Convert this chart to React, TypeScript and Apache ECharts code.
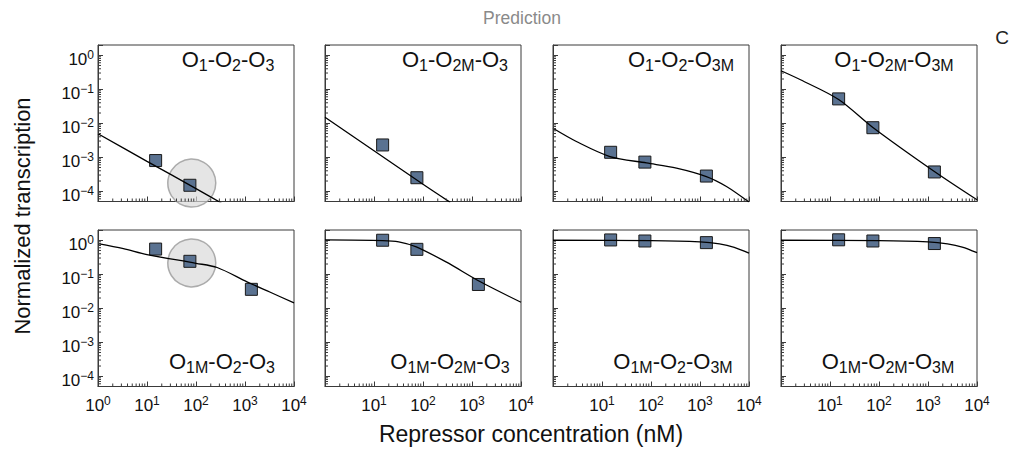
import React, { useEffect, useRef } from 'react';
import * as echarts from 'echarts';

const FONT = 'Liberation Sans, Arial, Helvetica, sans-serif';

// Repressor concentrations of the measured points (nM)
const concentrations = [15, 75, 1350];

// Panel labels (rich markup: o = normal, s = subscript)
const panelLabels = [
  '{o|O}{s|1}{o|-O}{s|2}{o|-O}{s|3}',
  '{o|O}{s|1}{o|-O}{s|2M}{o|-O}{s|3}',
  '{o|O}{s|1}{o|-O}{s|2}{o|-O}{s|3M}',
  '{o|O}{s|1}{o|-O}{s|2M}{o|-O}{s|3M}',
  '{o|O}{s|1M}{o|-O}{s|2}{o|-O}{s|3}',
  '{o|O}{s|1M}{o|-O}{s|2M}{o|-O}{s|3}',
  '{o|O}{s|1M}{o|-O}{s|2}{o|-O}{s|3M}',
  '{o|O}{s|1M}{o|-O}{s|2M}{o|-O}{s|3M}',
];

// Measured normalized transcription (squares)
const obsO1O2O3 = [8e-4, 1.5e-4];
const obsO1O2MO3 = [2.3e-3, 2.5e-4];
const obsO1O2O3M = [1.4e-3, 7.2e-4, 2.8e-4];
const obsO1O2MO3M = [0.052, 7.4e-3, 3.7e-4];
const obsO1MO2O3 = [0.55, 0.24, 0.036];
const obsO1MO2MO3 = [1.0, 0.54, 0.05];
const obsO1MO2O3M = [1.02, 0.95, 0.85];
const obsO1MO2MO3M = [1.03, 0.95, 0.8];

// Prediction curves: [concentration, transcription]
const fitO1O2O3 = [[1, 4.9e-3], [10, 7.6e-4], [100, 1.2e-4], [330, 4.5e-5]];
const fitO1O2MO3 = [[1, 1.5e-2], [10, 1.55e-3], [100, 1.6e-4], [360, 4.7e-5]];
const fitO1O2O3M = [[1, 7.1e-3], [3, 2.9e-3], [14.5, 1.05e-3], [81, 6.8e-4], [331, 4.8e-4], [1350, 2.7e-4], [3470, 1.38e-4], [10000, 4.8e-5]];
const fitO1O2MO3M = [[1, 0.35], [2.5, 0.19], [15, 0.05], [75, 7.5e-3], [1350, 3.8e-4], [10000, 5.6e-5]];
const fitO1MO2O3 = [[1, 0.8], [3.3, 0.57], [10, 0.38], [100, 0.21], [270, 0.158], [1100, 0.06], [3200, 0.03], [10000, 0.0144]];
const fitO1MO2MO3 = [[1, 1.02], [15, 0.98], [32, 0.9], [73, 0.64], [295, 0.23], [1480, 0.06], [10000, 0.015]];
const fitO1MO2O3M = [[1, 1.0], [100, 0.97], [1000, 0.89], [2500, 0.78], [5000, 0.62], [10000, 0.42]];
const fitO1MO2MO3M = [[1, 1.0], [100, 0.97], [1000, 0.89], [2500, 0.78], [5000, 0.63], [10000, 0.43]];

// Highlight circles [concentration, transcription] per panel (null = none)
const highlights = [[82, 1.74e-4], null, null, null, [82, 0.215], null, null, null];

const observations = [obsO1O2O3, obsO1O2MO3, obsO1O2O3M, obsO1O2MO3M, obsO1MO2O3, obsO1MO2MO3, obsO1MO2O3M, obsO1MO2MO3M];
const fits = [fitO1O2O3, fitO1O2MO3, fitO1O2O3M, fitO1O2MO3M, fitO1MO2O3, fitO1MO2MO3, fitO1MO2O3M, fitO1MO2MO3M];

const X_MIN = 1;
const X_MAX = 1e4;
const Y_MIN = 5e-5;
const Y_MAX = 2;

// Layout
const colLefts = [98, 325, 553, 781];
const rowTops = [45, 230];
const GRID_W = 196;
const GRID_H = 156.5;
const labelCenters = [228, 455, 681, 894, 222, 450, 673, 888];
const labelTops = [48.5, 350];

const AXIS_COLOR = '#3a3a3a';

function minorTickValues(lo: number, hi: number) {
  const out: number[] = [];
  for (let e = Math.floor(Math.log10(lo)) - 1; e <= Math.ceil(Math.log10(hi)); e++) {
    for (let k = 2; k <= 9; k++) {
      const v = k * Math.pow(10, e);
      if (v > lo * 1.0001 && v < hi * 0.9999) out.push(v);
    }
  }
  return out;
}

function powLabel(v: number) {
  const l = Math.log10(v);
  const e = Math.round(l);
  if (Math.abs(l - e) > 1e-6) return null;
  return e;
}

const tickRich = {
  b: { fontSize: 17, lineHeight: 19, verticalAlign: 'bottom', color: '#111', fontFamily: FONT, fontWeight: 'normal' },
  s: { fontSize: 12, lineHeight: 12, verticalAlign: 'top', color: '#111', fontFamily: FONT, fontWeight: 'normal' },
};

export default function App() {
  const ref = useRef<HTMLDivElement>(null);

  useEffect(() => {
    document.body.style.margin = '0';
    if (!ref.current) return;
    const chart = echarts.init(ref.current, undefined, { renderer: 'svg' });

    const grids: any[] = [];
    const xAxes: any[] = [];
    const yAxes: any[] = [];
    const series: any[] = [];
    const titles: any[] = [];

    const xMinor = minorTickValues(X_MIN, X_MAX);
    const yMinor = minorTickValues(Y_MIN, Y_MAX);

    for (let i = 0; i < 8; i++) {
      const row = Math.floor(i / 4);
      const col = i % 4;
      grids.push({
        left: colLefts[col],
        top: rowTops[row],
        width: GRID_W,
        height: GRID_H,
        show: true,
        borderColor: AXIS_COLOR,
        borderWidth: 1,
        backgroundColor: 'transparent',
        containLabel: false,
      });
      const showXLabels = row === 1;
      const showZero = col === 0;
      xAxes.push({
        type: 'log',
        logBase: 10,
        gridIndex: i,
        min: X_MIN,
        max: X_MAX,
        axisLine: { show: true, lineStyle: { color: AXIS_COLOR, width: 1 } },
        axisTick: { show: true, inside: true, length: 5, lineStyle: { color: AXIS_COLOR } },
        splitLine: { show: false },
        axisLabel: {
          show: showXLabels,
          margin: 8,
          formatter: (v: number) => {
            const e = powLabel(v);
            if (e === null) return '';
            if (e === 0 && !showZero) return '';
            return `{b|10}{s|${e < 0 ? '\u2212' + -e : e}}`;
          },
          rich: tickRich,
        },
      });
      yAxes.push({
        type: 'log',
        logBase: 10,
        gridIndex: i,
        min: Y_MIN,
        max: Y_MAX,
        axisLine: { show: true, lineStyle: { color: AXIS_COLOR, width: 1 } },
        axisTick: { show: true, inside: true, length: 5, lineStyle: { color: AXIS_COLOR } },
        splitLine: { show: false },
        axisLabel: {
          show: col === 0,
          margin: 4,
          padding: [7, 0, 0, 0],
          formatter: (v: number) => {
            const e = powLabel(v);
            if (e === null) return '';
            return `{b|10}{s|${e < 0 ? '\u2212' + -e : e}}`;
          },
          rich: tickRich,
        },
      });

      // minor ticks (x)
      series.push({
        type: 'custom',
        xAxisIndex: i,
        yAxisIndex: i,
        silent: true,
        z: 5,
        data: xMinor.map((v) => [v, 1]),
        encode: { x: 0, y: 1 },
        renderItem: (params: any, api: any) => {
          const cs = params.coordSys;
          const p = api.coord([api.value(0), api.value(1)]);
          const yb = cs.y + cs.height;
          return {
            type: 'line',
            shape: { x1: p[0], y1: yb, x2: p[0], y2: yb - 3 },
            style: { stroke: AXIS_COLOR, lineWidth: 1 },
          };
        },
      });
      // minor ticks (y)
      series.push({
        type: 'custom',
        xAxisIndex: i,
        yAxisIndex: i,
        silent: true,
        z: 5,
        data: yMinor.map((v) => [1, v]),
        encode: { x: 0, y: 1 },
        renderItem: (params: any, api: any) => {
          const cs = params.coordSys;
          const p = api.coord([api.value(0), api.value(1)]);
          return {
            type: 'line',
            shape: { x1: cs.x, y1: p[1], x2: cs.x + 3, y2: p[1] },
            style: { stroke: AXIS_COLOR, lineWidth: 1 },
          };
        },
      });

      const h = highlights[i];
      if (h) {
        series.push({
          type: 'scatter',
          xAxisIndex: i,
          yAxisIndex: i,
          silent: true,
          clip: false,
          symbol: 'circle',
          symbolSize: 48,
          data: [h],
          itemStyle: { color: 'rgba(216,216,216,0.85)', borderColor: '#9a9a9a', borderWidth: 1.5 },
        });
      }

      series.push({
        type: 'line',
        xAxisIndex: i,
        yAxisIndex: i,
        silent: true,
        showSymbol: false,
        smooth: 0.3,
        data: fits[i],
        lineStyle: { color: '#000', width: 1.3 },
      });

      series.push({
        type: 'scatter',
        xAxisIndex: i,
        yAxisIndex: i,
        silent: true,
        symbol: 'rect',
        symbolSize: 12,
        data: observations[i].map((y, k) => [concentrations[k], y]),
        itemStyle: { color: '#5a7291', borderColor: '#1a1a1a', borderWidth: 1, opacity: 1 },
      });

      titles.push({
        text: panelLabels[i],
        left: labelCenters[i],
        top: labelTops[row],
        textAlign: 'center',
        padding: 0,
        textStyle: {
          fontWeight: 'normal',
          fontSize: 22,
          rich: {
            o: { fontSize: 22, lineHeight: 25, verticalAlign: 'top', color: '#111', fontFamily: FONT, fontWeight: 'normal' },
            s: { fontSize: 16, lineHeight: 16, verticalAlign: 'bottom', color: '#111', fontFamily: FONT, fontWeight: 'normal' },
          },
        },
      });
    }

    chart.setOption({
      animation: false,
      textStyle: { fontFamily: FONT },
      title: titles,
      grid: grids,
      xAxis: xAxes,
      yAxis: yAxes,
      series,
      graphic: [
        {
          type: 'text',
          x: 522,
          y: 18,
          style: { text: 'Prediction', fontSize: 17.5, fontFamily: FONT, fill: '#8a8a8a', align: 'center', verticalAlign: 'middle' },
        },
        {
          type: 'text',
          x: 1002,
          y: 37,
          style: { text: 'C', fontSize: 19, fontFamily: FONT, fill: '#222', align: 'center', verticalAlign: 'middle' },
        },
        {
          type: 'text',
          x: 531,
          y: 434,
          style: { text: 'Repressor concentration (nM)', fontSize: 23, fontFamily: FONT, fill: '#111', align: 'center', verticalAlign: 'middle' },
        },
        {
          type: 'text',
          x: 22,
          y: 216,
          rotation: Math.PI / 2,
          style: { text: 'Normalized transcription', fontSize: 22, fontFamily: FONT, fill: '#111', align: 'center', verticalAlign: 'middle' },
        },
      ],
    });

    return () => chart.dispose();
  }, []);

  return <div ref={ref} style={{ width: 1033, height: 452, overflow: 'hidden' }} />;
}
